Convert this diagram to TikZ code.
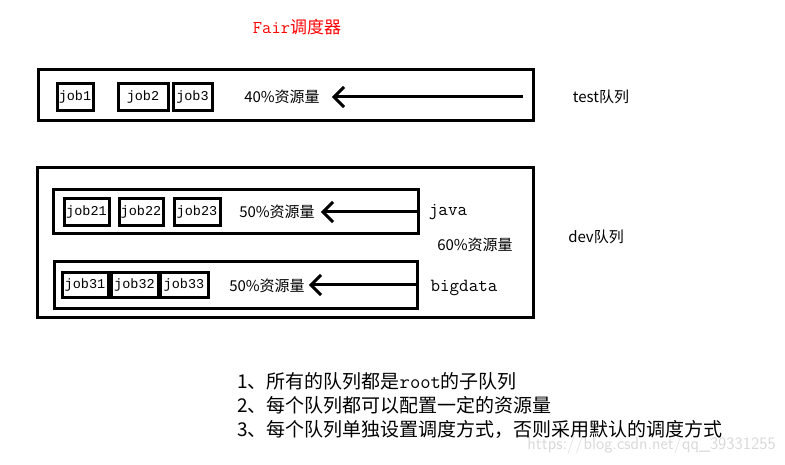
\documentclass[tikz,border=0pt]{standalone}
\usepackage{fontspec}
\newfontfamily\cjk{Noto Sans CJK SC}
\newfontfamily\jobfont{Liberation Mono}
\usetikzlibrary{positioning, arrows.meta}

\begin{document}
\begin{tikzpicture}[x=1pt, y=-1pt]
    \tikzstyle{queue} = [rectangle, draw=black, line width=3pt, inner sep=0pt]
    \tikzstyle{job} = [rectangle, draw=black, line width=3pt, minimum height=27pt, inner sep=0pt, font=\jobfont\fontsize{13.5}{15}\selectfont]
    \tikzstyle{res} = [inner sep=0pt, font=\cjk\fontsize{15}{18}\selectfont]
    \tikzstyle{qname} = [inner sep=0pt, font=\cjk\fontsize{15}{18}\selectfont]
    \tikzstyle{note} = [anchor=west, inner sep=0pt, font=\cjk\fontsize{19}{22}\selectfont]
    \tikzstyle{arrow} = [line width=3pt, -{Straight Barb[length=10pt, width=20pt]}]
    \useasboundingbox (0,0) rectangle (785,465);
    \node (title) [inner sep=0pt, text=red, font=\cjk\fontsize{17}{20}\selectfont] at (297,27) {{\ttfamily\fontsize{18}{20}\selectfont Fair}调度器};
    % test queue
    \node (testq) [queue, minimum width=495pt, minimum height=51pt] at (285.5,95.5) {};
    \node (job1) [job, minimum width=36pt] at (75,97.5) {job1};
    \node (job2) [job, minimum width=50pt] at (143,97.5) {job2};
    \node (job3) [job, minimum width=39pt] at (192.5,97.5) {job3};
    \node (testres) [res] at (282,97) {40\%资源量};
    \coordinate (testin) at (523,97);
    \node (testname) [qname] at (601,97) {test队列};
    % dev queue
    \node (devq) [queue, minimum width=496pt, minimum height=150pt] at (285,243) {};
    \node (javaq) [queue, minimum width=365pt, minimum height=44pt] at (235.5,212) {};
    \node (job21) [job, minimum width=45pt] at (86.5,212) {job21};
    \node (job22) [job, minimum width=44pt] at (141,212) {job22};
    \node (job23) [job, minimum width=46pt] at (197,212) {job23};
    \node (javares) [res] at (277,212) {50\%资源量};
    \node (java) [qname, font=\ttfamily\fontsize{18.5}{20}\selectfont] at (448,212) {java};
    \node (bigdataq) [queue, minimum width=363pt, minimum height=47pt] at (235.5,285) {};
    \node (job31) [job, minimum width=46pt, minimum height=25pt] at (85,285) {job31};
    \node (job32) [job, minimum width=47pt, minimum height=25pt] at (134.5,285) {job32};
    \node (job33) [job, minimum width=48pt, minimum height=25pt] at (184,285) {job33};
    \node (bigdatares) [res] at (267,286) {50\%资源量};
    \node (bigdata) [qname, font=\ttfamily\fontsize{18.5}{20}\selectfont] at (464,288) {bigdata};
    \node (devres) [res] at (475,245) {60\%资源量};
    \node (devname) [qname] at (596,237) {dev队列};
    \draw [arrow, shorten >=12pt] (testin) -- (testres);
    \draw [arrow, shorten >=6pt] (javaq.east) -- (javares);
    \draw [arrow, shorten >=4pt] (bigdataq.east) -- (bigdatares.east |- bigdataq.east);
    % notes
    \node (mark) [anchor=east, inner sep=0pt, text=gray!30, font=\fontsize{17.5}{20}\selectfont\sffamily] at (776,445) {https://blog.csdn.net/qq\_39331255};
    \node (note1) [note] at (237,381) {1、所有的队列都是{\ttfamily\fontsize{20}{22}\selectfont root}的子队列};
    \node (note2) [note] at (237,405) {2、每个队列都可以配置一定的资源量};
    \node (note3) [note] at (237,429) {3、每个队列单独设置调度方式，否则采用默认的调度方式};
\end{tikzpicture}
\end{document}
